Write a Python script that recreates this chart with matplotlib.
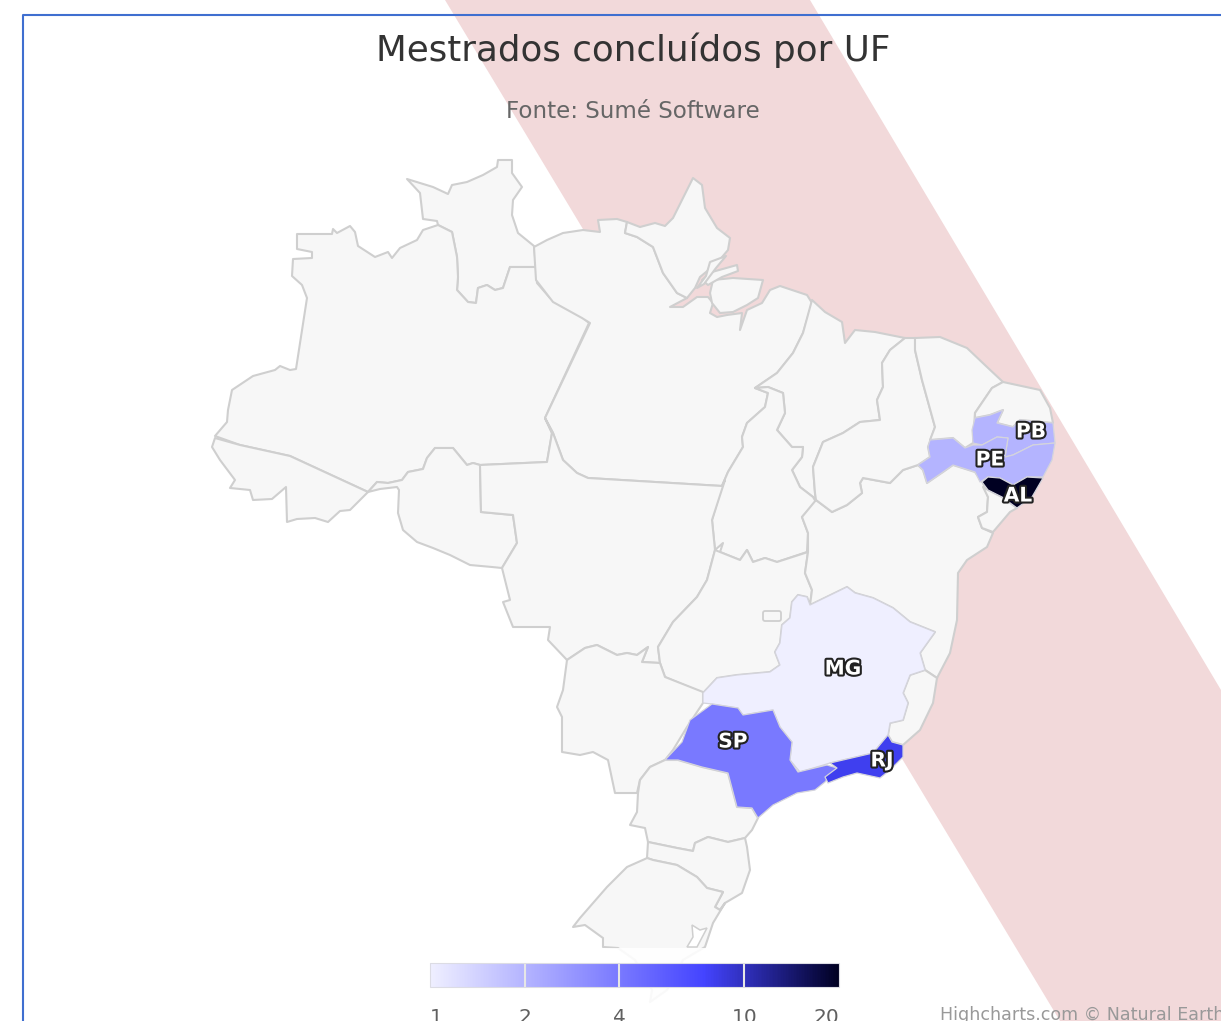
# -*- coding: utf-8 -*-
import matplotlib
matplotlib.use("Agg")
import matplotlib.pyplot as plt
from matplotlib.cm import ScalarMappable
from matplotlib.colors import LinearSegmentedColormap, LogNorm
from matplotlib.patches import Polygon, Rectangle, FancyBboxPatch
import matplotlib.patheffects as pe

ufs = ["MG", "SP", "PB", "PE", "RJ", "AL"]
valores = [1, 4, 2, 2, 8, 20]
legend_ticks = [1, 2, 4, 10, 20]
label_xy = [(843, 669), (733, 742), (1031, 432), (990, 460), (882, 761), (1018, 496)]

# state outlines traced in picture coordinates
RR = [(407,179),(420,183),(433,187),(448,194),(452,185),(467,182),(483,175),(497,167),(498,160),(512,160),(512,173),(522,187),(513,200),(512,215),(518,233),(534,246),(536,267),(510,267),(503,288),(495,290),(487,285),(478,288),(476,303),(468,302),(457,290),(458,277),(457,257),(452,232),(438,225),(437,221),(423,219),(420,193)]
AM = [(297,234),(332,234),(333,229),(337,233),(350,226),(355,232),(358,246),(375,257),(388,252),(392,258),(400,248),(417,240),(423,230),(438,225),(452,232),(457,257),(458,277),(457,290),(468,302),(476,303),(478,288),(487,285),(495,290),(503,288),(510,267),(536,267),(537,283),(550,298),(567,308),(582,317),(589,323),(545,418),(552,433),(547,462),(480,465),(473,463),(467,465),(453,448),(435,448),(427,458),(423,469),(408,472),(402,480),(388,483),(377,482),(368,492),(290,456),(240,445),(215,436),(227,422),(228,410),(232,390),(253,376),(275,370),(280,366),(290,370),(296,369),(307,298),(302,285),(292,276),(293,259),(312,258),(312,252),(297,249)]
AC = [(368,492),(350,510),(340,511),(328,522),(315,518),(297,519),(287,522),(286,487),(272,499),(253,500),(250,490),(230,488),(235,480),(220,460),(212,447),(215,438),(240,445),(290,456)]
RO = [(368,492),(380,489),(397,487),(399,490),(398,513),(403,530),(417,542),(433,548),(450,555),(470,565),(492,567),(502,568),(517,543),(513,515),(481,512),(480,465),(473,463),(467,465),(453,448),(435,448),(427,458),(423,469),(408,472),(402,480),(388,483),(377,482)]
PA = [(534,247),(536,280),(553,302),(582,318),(590,323),(545,418),(553,433),(563,460),(577,473),(588,478),(722,486),(728,472),(743,447),(742,437),(747,423),(765,407),(768,393),(755,388),(777,373),(793,353),(803,333),(812,303),(807,295),(780,286),(770,290),(762,303),(747,310),(740,330),(742,313),(727,315),(717,317),(710,313),(713,303),(708,297),(697,297),(683,307),(670,307),(687,298),(677,293),(663,273),(653,247),(637,237),(625,233),(627,222),(617,219),(598,220),(600,232),(583,230),(563,233),(547,240)]
AP = [(627,222),(640,227),(655,223),(665,226),(673,218),(693,178),(702,185),(705,208),(717,228),(730,238),(728,250),(717,263),(700,277),(695,288),(687,298),(677,293),(663,273),(653,247),(637,237),(625,233)]
MARAJO = [(713,280),(733,278),(763,280),(758,298),(747,305),(733,312),(720,313),(712,303),(710,293)]
ILHA1 = [(702,280),(712,272),(737,265),(738,271),(722,277),(708,285)]
ILHA2 = [(697,288),(706,276),(710,262),(726,256),(716,268),(704,284)]
MA = [(812,300),(825,312),(842,322),(845,343),(855,330),(875,332),(905,338),(890,350),(882,363),(883,387),(877,400),(880,420),(860,422),(843,433),(823,442),(813,467),(815,493),(816,500),(813,497),(800,487),(792,470),(802,457),(803,447),(792,447),(777,430),(785,413),(783,393),(768,387),(755,388),(777,373),(793,353),(803,333)]
TO = [(722,486),(728,472),(743,447),(742,437),(747,423),(765,407),(768,393),(755,388),(768,387),(783,393),(785,413),(777,430),(792,447),(803,447),(802,457),(792,470),(800,487),(813,497),(816,502),(802,517),(808,533),(807,552),(777,562),(765,558),(753,562),(747,550),(740,560),(720,552),(723,543),(715,550),(712,520)]
MT = [(545,418),(552,433),(547,462),(480,465),(481,512),(513,515),(517,543),(502,568),(510,600),(503,602),(513,627),(550,627),(548,640),(567,660),(585,648),(597,645),(617,655),(627,653),(637,655),(648,647),(642,662),(660,663),(658,647),(673,622),(697,597),(707,580),(715,550),(712,520),(725,480),(722,486),(588,478),(577,473),(563,460),(553,433)]
GO = [(715,550),(720,552),(740,560),(747,550),(753,562),(765,558),(777,562),(808,552),(805,573),(812,590),(810,605),(807,597),(798,595),(792,602),(790,618),(782,625),(780,643),(775,652),(780,665),(770,672),(737,675),(717,678),(703,693),(665,677),(660,663),(658,647),(673,622),(697,597),(707,580)]
MS = [(567,660),(585,648),(597,645),(617,655),(627,653),(637,655),(648,647),(642,662),(660,663),(665,677),(703,692),(703,703),(687,727),(673,750),(665,760),(650,767),(640,780),(637,793),(615,793),(608,760),(593,752),(580,755),(562,752),(562,717),(557,707),(563,690)]
BA = [(816,500),(802,517),(808,533),(808,552),(805,573),(812,590),(810,605),(847,587),(855,593),(873,598),(893,608),(910,622),(935,632),(920,653),(925,670),(937,678),(950,653),(957,620),(958,573),(967,560),(987,547),(993,533),(982,528),(978,517),(987,512),(988,497),(983,483),(975,472),(953,465),(943,472),(927,483),(923,470),(918,465),(903,470),(890,483),(863,478),(860,483),(862,493),(847,505),(832,512)]
PI = [(905,338),(915,338),(915,350),(922,380),(935,427),(928,447),(930,457),(918,465),(903,470),(890,483),(863,478),(860,483),(862,493),(847,505),(832,512),(816,500),(815,493),(813,467),(823,442),(843,433),(860,422),(880,420),(877,400),(883,387),(882,363),(890,350)]
CE = [(915,338),(940,337),(967,348),(987,367),(1003,382),(992,388),(975,413),(973,443),(965,448),(953,438),(930,440),(935,427),(922,380),(915,350)]
RN = [(1003,382),(1040,390),(1050,408),(1053,423),(1020,420),(1013,427),(997,423),(1003,410),(990,415),(975,418),(975,413),(992,388)]
PB = [(975,418),(990,415),(1003,410),(997,423),(1013,427),(1020,420),(1053,423),(1055,443),(1033,445),(1013,455),(1005,457),(1008,438),(997,437),(982,445),(973,443),(972,430)]
PE = [(918,465),(930,457),(928,447),(930,440),(953,438),(965,448),(973,445),(982,445),(997,437),(1008,438),(1005,457),(1013,455),(1033,445),(1055,443),(1052,460),(1043,477),(1027,477),(1013,485),(1000,478),(988,477),(980,482),(975,472),(953,465),(943,472),(927,483),(923,470)]
AL = [(982,482),(988,477),(1000,478),(1013,485),(1027,477),(1043,478),(1032,497),(1017,508),(1002,497),(988,490)]
SE = [(983,487),(988,490),(1002,497),(1017,508),(1010,512),(993,532),(982,528),(978,517),(987,512),(988,497)]
ES = [(925,670),(937,678),(933,703),(920,730),(903,745),(892,742),(888,735),(890,723),(903,720),(908,703),(903,693),(910,675)]
MG = [(703,693),(717,678),(737,675),(770,672),(780,665),(775,652),(780,643),(782,625),(790,618),(792,602),(798,595),(807,597),(810,605),(847,587),(855,593),(873,598),(893,608),(910,622),(935,632),(920,653),(925,670),(910,675),(903,693),(908,703),(903,720),(890,723),(888,735),(873,753),(830,763),(800,772),(790,760),(792,742),(780,727),(773,710),(743,715),(738,708),(712,704),(703,703)]
SP = [(665,760),(682,742),(690,720),(712,704),(738,708),(743,715),(773,710),(780,727),(792,742),(790,760),(798,772),(827,765),(837,768),(825,782),(815,790),(797,793),(773,805),(758,818),(752,808),(737,807),(728,773),(702,767),(678,760)]
RJ = [(830,763),(873,753),(888,735),(892,742),(903,745),(903,757),(890,770),(880,778),(857,773),(843,777),(828,783),(825,777),(837,768)]
PR = [(665,760),(678,760),(702,767),(728,773),(737,807),(752,808),(758,818),(752,830),(745,838),(728,842),(708,837),(695,843),(693,851),(677,848),(648,842),(645,828),(630,825),(637,812),(638,793),(640,780),(650,767)]
SC = [(648,842),(677,848),(693,851),(695,843),(708,837),(728,842),(745,838),(747,847),(750,870),(742,893),(725,903),(720,910),(715,907),(723,892),(707,888),(697,877),(677,865),(653,860),(647,858)]
RS = [(647,858),(653,860),(677,865),(697,877),(707,888),(723,892),(715,907),(720,910),(725,903),(713,923),(705,947),(683,960),(667,990),(650,1002),(652,990),(635,960),(618,948),(603,947),(603,938),(585,925),(573,927),(580,918),(607,887),(627,867),(645,859)]
LAGOA = [(692,925),(693,937),(687,947),(697,947),(707,928),(700,930)]

cinza = [RR, AM, AC, RO, PA, AP, MA, TO, MT, GO, MS, BA, PI, CE, RN, SE, ES, PR, SC, RS, MARAJO, ILHA1, ILHA2]
coloridos = [MG, SP, PB, PE, RJ, AL]

faixa = [(445, 0), (810, 0), (1221, 690), (1221, 1021), (1060, 1021)]

W, H = 1221, 1021
fig = plt.figure(figsize=(W / 100, H / 100), dpi=100)
ax = fig.add_axes([0, 0, 1, 1])
ax.set_xlim(0, W)
ax.set_ylim(H, 0)
ax.axis("off")

ax.add_patch(Polygon(faixa, fc="#f2d9da", ec="none", zorder=0))
ax.plot([23, 23, W], [H, 15, 15], color="#3f6fd0", lw=1.5, zorder=1)

# highcharts colour axis
cmap = LinearSegmentedColormap.from_list("uf", [(0, "#EFEFFF"), (0.67, "#4444FF"), (1, "#000022")])
norm = LogNorm(1, 20)

for p in cinza:
    ax.add_patch(Polygon(p, fc="#f7f7f7", ec="#cfcfcf", lw=1.5, joinstyle="round", zorder=2))
ax.add_patch(Polygon(LAGOA, fc="#ffffff", ec="#cfcfcf", lw=1.1, zorder=3))
ax.add_patch(FancyBboxPatch((763, 611), 18, 10, boxstyle="round,pad=0,rounding_size=2",
                            fc="#f7f7f7", ec="#cfcfcf", lw=1.3, zorder=3))

for p, v in zip(coloridos, valores):
    ax.add_patch(Polygon(p, fc=cmap(norm(v)), ec="#d4d4dc", lw=0.9, joinstyle="round", zorder=4))

for uf, (x, y) in zip(ufs, label_xy):
    ax.text(x, y, uf, color="white", fontsize=14.5, fontweight="bold", ha="center", va="center", zorder=6,
            path_effects=[pe.withStroke(linewidth=3, foreground="#222222")])

# the legend box sits over the south of the map
ax.add_patch(Rectangle((425, 948), 420, 73, fc="white", ec="none", alpha=0.88, zorder=5))

ax.text(633, 50, "Mestrados concluídos por UF", color="#333333", fontsize=25.7, ha="center", va="center", zorder=6)
ax.text(633, 111, "Fonte: Sumé Software", color="#666666", fontsize=16.6, ha="center", va="center", zorder=6)
ax.text(940, 1015, "Highcharts.com © Natural Earth", color="#999999", fontsize=12.6, ha="left", va="center", zorder=6)

cax = fig.add_axes([430 / W, 1 - 987 / H, 409 / W, 24 / H])
cb = fig.colorbar(ScalarMappable(norm=norm, cmap=cmap), cax=cax, orientation="horizontal")
cb.outline.set_edgecolor("#dcdce4")
cb.outline.set_linewidth(0.8)
cb.set_ticks(legend_ticks)
cb.set_ticklabels([str(t) for t in legend_ticks])
cb.minorticks_off()
cax.tick_params(length=0, pad=15, labelsize=14.5, labelcolor="#606060")
for t in legend_ticks[1:-1]:
    cax.axvline(t, color="#e6e6e6", lw=1.5)
labels = cax.get_xticklabels()
labels[0].set_ha("left")
labels[-1].set_ha("right")

fig.savefig("out.png", dpi=100)
